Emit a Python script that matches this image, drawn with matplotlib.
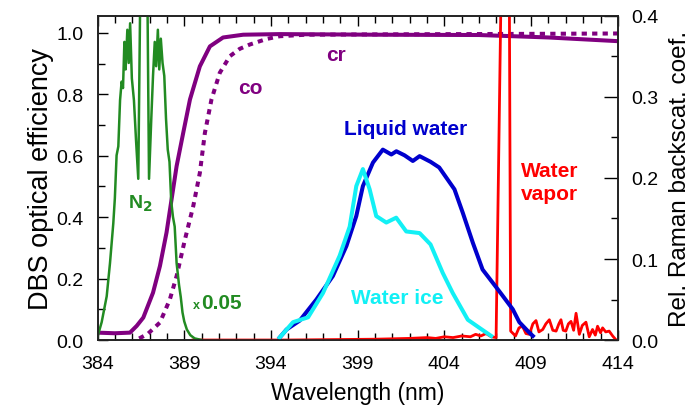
import matplotlib
matplotlib.use("Agg")
import matplotlib.pyplot as plt
from matplotlib.ticker import MultipleLocator

plt.rcParams['font.family'] = ['Liberation Sans', 'DejaVu Sans']

# ---------------------------------------------------------------
# DBS filter efficiencies (left axis)
# ---------------------------------------------------------------
cr_wl = [384.0, 385.0, 385.87, 386.26, 386.64, 387.2, 387.6, 387.98, 388.27,
         388.56, 388.94, 389.33, 389.9, 390.48, 391.24, 392.4, 394.5, 400.0,
         406.0, 410.0, 414.0]
cr_eff = [0.024, 0.022, 0.024, 0.046, 0.073, 0.154, 0.241, 0.35, 0.458,
          0.566, 0.674, 0.783, 0.891, 0.956, 0.985, 0.994, 0.996, 0.994,
          0.993, 0.985, 0.973]

co_wl = [386.4, 386.9, 387.6, 388.17, 388.56, 389.04, 389.52, 389.9, 390.19,
         390.57, 391.05, 391.63, 392.2, 392.78, 393.74, 394.5, 396.0, 400.0,
         405.0, 410.0, 414.0]
co_eff = [0.005, 0.02, 0.057, 0.132, 0.208, 0.327, 0.436, 0.544, 0.674,
          0.783, 0.87, 0.924, 0.948, 0.962, 0.98, 0.989, 0.994, 0.995,
          0.996, 0.997, 0.998]

# ---------------------------------------------------------------
# Raman spectra (right axis)
# ---------------------------------------------------------------
n2_wl = [384.0, 384.24, 384.53, 384.72, 384.91, 385.0, 385.1, 385.2, 385.3,
         385.39, 385.47, 385.55, 385.62, 385.72, 385.8, 385.88, 385.98, 386.1,
         386.22, 386.35, 386.46, 386.88, 386.97, 387.1, 387.2, 387.3, 387.38,
         387.48, 387.56, 387.65, 387.75, 387.85, 387.95, 388.05, 388.15, 388.25,
         388.35, 388.45, 388.56, 388.7, 388.8, 388.9, 389.0, 389.15, 389.35,
         389.6, 390.0]
n2_raman = [0.004, 0.022, 0.054, 0.095, 0.144, 0.175, 0.228, 0.239, 0.296,
            0.319, 0.311, 0.368, 0.334, 0.383, 0.342, 0.391, 0.323, 0.296,
            0.247, 0.199, 0.42, 0.42, 0.199, 0.273, 0.326, 0.368, 0.338,
            0.383, 0.334, 0.372, 0.342, 0.326, 0.273, 0.235, 0.22, 0.171,
            0.152, 0.14, 0.095, 0.068, 0.053, 0.034, 0.023, 0.013, 0.006,
            0.002, 0.0]

liq_wl = [394.5, 394.9, 395.66, 396.62, 397.57, 398.35, 398.92, 399.3, 399.88,
          400.45, 400.94, 401.23, 401.7, 402.18, 402.57, 403.2, 403.7, 404.58,
          405.06, 405.64, 406.2, 407.17, 407.94, 408.32, 408.9, 409.1]
liq_raman = [0.003, 0.013, 0.024, 0.05, 0.079, 0.116, 0.153, 0.19, 0.219,
             0.235, 0.229, 0.233, 0.228, 0.221, 0.227, 0.22, 0.213, 0.186,
             0.157, 0.12, 0.087, 0.06, 0.038, 0.022, 0.009, 0.005]

ice_wl = [394.5, 395.27, 396.14, 397.0, 397.96, 398.54, 398.92, 399.3, 399.69,
          400.07, 400.65, 401.22, 401.8, 402.57, 403.2, 403.9, 404.48, 405.35,
          406.02, 406.7]
ice_raman = [0.003, 0.022, 0.028, 0.058, 0.104, 0.14, 0.19, 0.211, 0.186,
             0.153, 0.145, 0.151, 0.134, 0.132, 0.118, 0.083, 0.058, 0.025,
             0.015, 0.005]

vap_wl = [389.5, 395.0, 400.0, 402.0, 403.0, 403.5, 404.0, 404.5, 405.0,
          405.5, 405.8, 406.1, 406.4, 406.7, 406.98, 407.28, 407.74, 407.82,
          408.1, 408.3, 408.5, 408.7, 408.9, 409.1, 409.28, 409.45, 409.67,
          409.85, 410.05, 410.25, 410.44, 410.6, 410.72, 410.85, 411.0, 411.15,
          411.3, 411.45, 411.59, 411.78, 411.95, 412.16, 412.35, 412.54, 412.7,
          412.83, 413.0, 413.12, 413.3, 413.5, 413.7, 413.9, 414.0]
vap_raman = [0.0, 0.0, 0.001, 0.002, 0.003, 0.002, 0.004, 0.003, 0.005,
             0.004, 0.007, 0.005, 0.008, 0.004, 0.003, 0.45, 0.45, 0.011,
             0.005, 0.015, 0.017, 0.008, 0.007, 0.02, 0.024, 0.01, 0.013,
             0.02, 0.025, 0.012, 0.011, 0.02, 0.025, 0.012, 0.011, 0.02,
             0.023, 0.012, 0.033, 0.007, 0.018, 0.022, 0.004, 0.013, 0.006,
             0.017, 0.009, 0.015, 0.01, 0.011, 0.005, 0.0, 0.0]

x_ticks = [384, 389, 394, 399, 404, 409, 414]

PURPLE = "#800080"
GREEN = "#228B22"
BLUE = "#0000CD"
CYAN = "#12F0F5"
RED = "#FF0000"

fig = plt.figure(figsize=(6.95, 4.14), dpi=100)
ax = fig.add_axes([0.1403, 0.1763, 0.7487, 0.7827])
ax2 = ax.twinx()

# left axis: filters
ax.plot(cr_wl, cr_eff, color=PURPLE, lw=2.9, solid_capstyle="butt")
ax.plot(co_wl, co_eff, color=PURPLE, lw=2.9, ls=(0, (1.3, 1.3)))

# right axis: Raman spectra
ax2.plot(vap_wl, vap_raman, color=RED, lw=2)
ax2.plot(n2_wl, n2_raman, color=GREEN, lw=1.8)
ax2.plot(liq_wl, liq_raman, color=BLUE, lw=2.9)
ax2.plot(ice_wl, ice_raman, color=CYAN, lw=2.9)

ax.set_xlim(384, 414)
ax.set_ylim(0, 1.055)
ax2.set_ylim(0, 0.4)
ax.set_xticks(x_ticks)
ax.xaxis.set_minor_locator(MultipleLocator(1))
ax.yaxis.set_major_locator(MultipleLocator(0.2))
ax.yaxis.set_minor_locator(MultipleLocator(0.1))
ax2.yaxis.set_major_locator(MultipleLocator(0.1))
ax2.yaxis.set_minor_locator(MultipleLocator(0.05))
ax.yaxis.set_major_formatter(plt.FormatStrFormatter("%.1f"))
ax2.yaxis.set_major_formatter(plt.FormatStrFormatter("%.1f"))

ax.tick_params(which="both", direction="in", top=True, right=False,
               labelsize=14, width=1)
ax.tick_params(axis="x", which="major", length=7, pad=11)
ax.tick_params(axis="x", which="minor", length=5)
ax.tick_params(axis="y", which="major", length=7, pad=10)
ax.tick_params(axis="y", which="minor", length=5)
ax2.tick_params(which="both", direction="in", labelsize=14, width=1)
ax2.tick_params(which="major", length=10, pad=10)
ax2.tick_params(which="minor", length=5)

for a in (ax, ax2):
    for s in a.spines.values():
        s.set_linewidth(1.2)
        s.set_color("#222222")

ax.set_xlabel("Wavelength (nm)", fontsize=16.5, labelpad=6)
ax.set_ylabel("DBS optical efficiency", fontsize=19.5, labelpad=2)
ax2.set_ylabel("Rel. Raman backscat. coef.", fontsize=17.5, labelpad=7)

# annotations
bold = dict(fontweight="bold", fontsize=15)
ax.text(397.73, 0.93, "cr", color=PURPLE, ha="center", va="center", **bold)
ax.text(392.84, 0.822, "co", color=PURPLE, ha="center", va="center", **bold)
ax.text(401.74, 0.69, "Liquid water", color=BLUE, ha="center", va="center", **bold)
ax.text(401.27, 0.14, "Water ice", color=CYAN, ha="center", va="center", **bold)
ax.text(408.42, 0.515, "Water\nvapor", color=RED, ha="left", va="center",
        linespacing=1.25, **bold)
ax.text(385.77, 0.445, r"N$_\mathbf{2}$", color=GREEN, ha="left", va="center",
        fontweight="bold", fontsize=14)
ax.text(389.5, 0.115, "x", color=GREEN, ha="left", va="center",
        fontweight="bold", fontsize=9)
ax.text(389.99, 0.121, "0.05", color=GREEN, ha="left", va="center", **bold)

fig.savefig("out.png", dpi=100)
